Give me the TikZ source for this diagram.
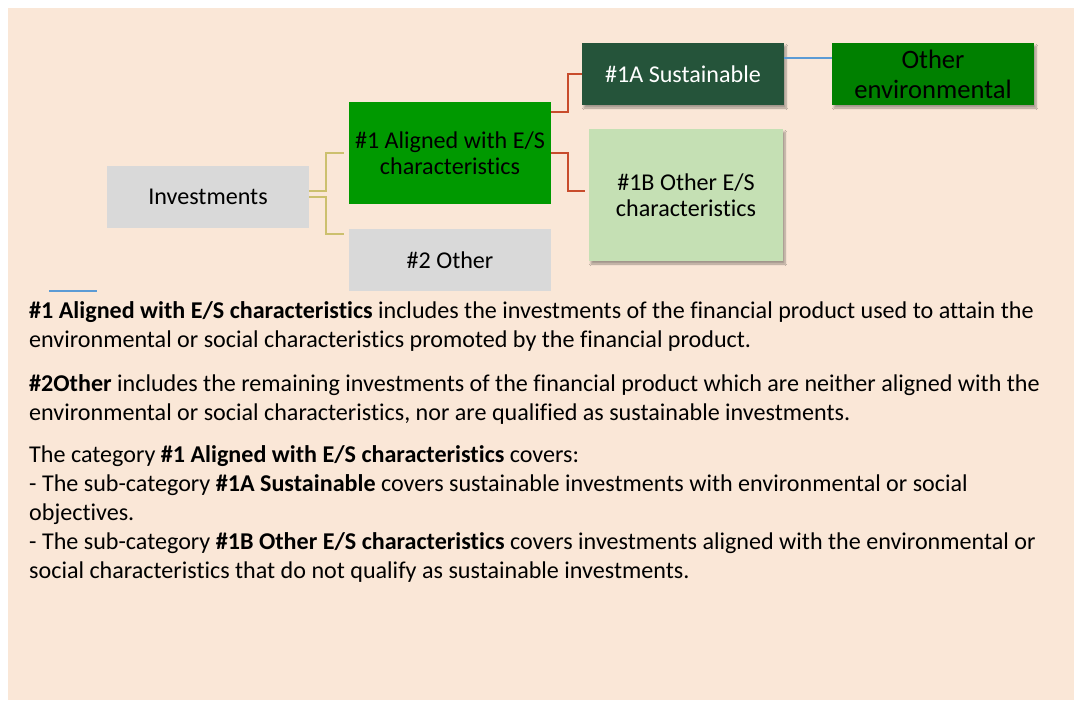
\documentclass[tikz,border=0pt]{standalone}
\usepackage{fontspec}
\setmainfont{Carlito}[Ligatures=NoCommon]
\usetikzlibrary{shadows.blur}
\definecolor{peach}{RGB}{250,231,215}
\definecolor{boxgray}{RGB}{217,217,217}
\definecolor{midgreen}{RGB}{0,153,0}
\definecolor{darkgreen}{RGB}{37,84,58}
\definecolor{lightgreen}{RGB}{197,224,180}
\definecolor{envgreen}{RGB}{0,128,0}
\definecolor{yelline}{RGB}{204,192,110}
\definecolor{redline}{RGB}{200,76,44}
\definecolor{blueline}{RGB}{91,155,213}
\begin{document}
\begin{tikzpicture}[x=1pt,y=-1pt,
  box/.style={minimum width=202pt,minimum height=62pt,inner sep=0pt,align=center,
    font=\fontsize{24.1}{25.5}\selectfont},
  shad/.style={blur shadow={shadow xshift=2pt,shadow yshift=-3pt,shadow opacity=35,shadow blur steps=6}},
  yconn/.style={draw=yelline,line width=1.8pt},
  rconn/.style={draw=redline,line width=1.8pt},
  bconn/.style={draw=blueline,line width=1.2pt},
  body/.style={anchor=base west,inner sep=0pt,font=\fontsize{24.1}{29}\selectfont}]
\useasboundingbox (0,0) rectangle (1074,701);
\fill[white] (0,0) rectangle (1074,701);
\fill[peach] (8,8) rectangle (1074,700);

\node[box,fill=boxgray] (inv) at (208,197) {Investments};
\node[box,fill=midgreen,minimum height=102pt] (a1) at (450,153) {\#1 Aligned with E/S\\characteristics};
\node[box,fill=boxgray] (oth) at (450,260) {\#2 Other};
\node[box,shad,fill=darkgreen,text=white] (s1a) at (683,74) {\#1A Sustainable};
\node[box,shad,fill=lightgreen,minimum width=194pt,minimum height=132pt] (s1b) at (686,195) {\#1B Other E/S\\characteristics};
\node[box,shad,fill=envgreen,font=\fontsize{26.6}{30}\selectfont] (oe) at (933,74) {Other\\environmental};

\draw[yconn] ([yshift=6pt]inv.east) -- ++(17,0) |- ([xshift=-5pt]a1.west);
\draw[yconn] (inv.east) -- ++(17,0) |- ([xshift=-5pt,yshift=-5pt]oth.north west);
\draw[rconn] ([yshift=-10pt]a1.north east) -- ++(17,0) |- (s1a.west);
\draw[rconn] (a1.east) -- ++(17,0) |- ([xshift=-4pt,yshift=4pt]s1b.west);
\draw[bconn] ([yshift=16pt]s1a.east) -- ([yshift=16pt]oe.west);

\coordinate (bl1) at (49,291);
\coordinate (bl2) at (97,291);
\draw[bconn,line width=2pt] (bl1) -- (bl2);

\node[body] (t1) at (29,318) {\textbf{\#1 Aligned with E/S characteristics} includes the investments of the financial product used to attain the};
\node[body] (t2) at (29,347) {environmental or social characteristics promoted by the financial product.};
\node[body] (t3) at (29,391) {\textbf{\#2Other} includes the remaining investments of the financial product which are neither aligned with the};
\node[body] (t4) at (29,420) {environmental or social characteristics, nor are qualified as sustainable investments.};
\node[body] (t5) at (29,462) {The category \textbf{\#1 Aligned with E/S characteristics} covers:};
\node[body] (t6) at (29,491) {- The sub-category \textbf{\#1A Sustainable} covers sustainable investments with environmental or social};
\node[body] (t7) at (29,520) {objectives.};
\node[body] (t8) at (29,549) {- The sub-category \textbf{\#1B Other E/S characteristics} covers investments aligned with the environmental or};
\node[body] (t9) at (29,578) {social characteristics that do not qualify as sustainable investments.};
\end{tikzpicture}
\end{document}
